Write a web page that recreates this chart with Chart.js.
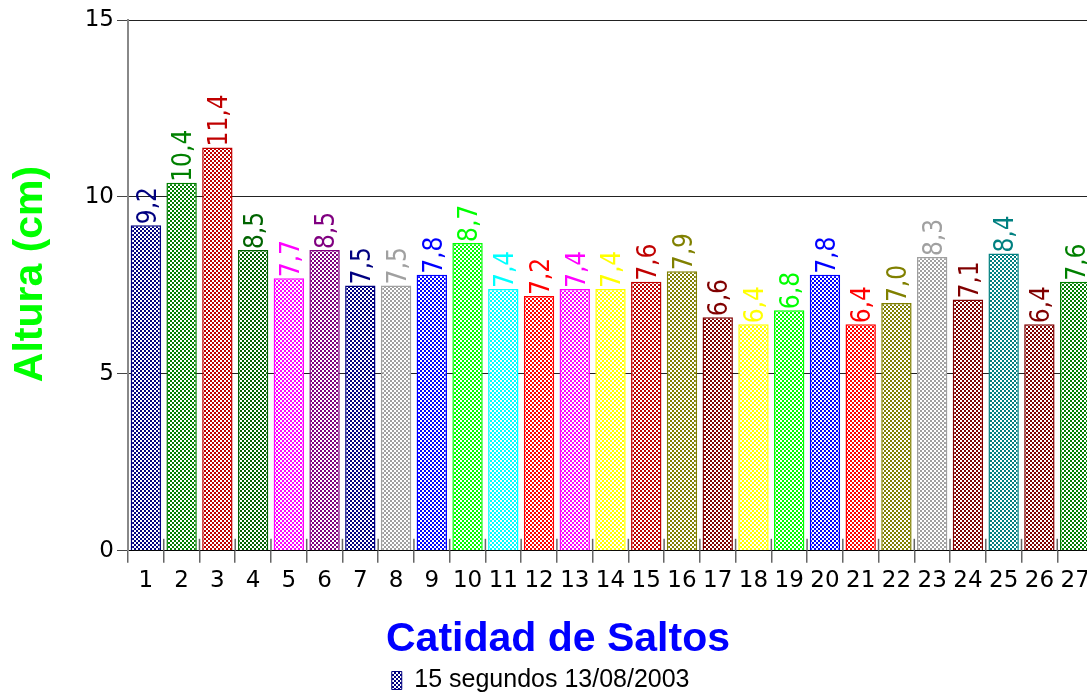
<!DOCTYPE html>
<html>
<head>
<meta charset="utf-8">
<script src="https://cdn.jsdelivr.net/npm/chart.js@4"></script>
<style>
  html, body { margin: 0; padding: 0; overflow: hidden; background: #fff; }
  #wrap { width: 1115px; height: 693px; position: relative; }
</style>
</head>
<body>
<div id="wrap"><canvas id="saltosChart"></canvas></div>
<script>
const saltos = ["1","2","3","4","5","6","7","8","9","10","11","12","13","14","15","16","17","18","19","20","21","22","23","24","25","26","27"];
const alturas = [9.2, 10.4, 11.4, 8.5, 7.7, 8.5, 7.5, 7.5, 7.8, 8.7, 7.4, 7.2, 7.4, 7.4, 7.6, 7.9, 6.6, 6.4, 6.8, 7.8, 6.4, 7.0, 8.3, 7.1, 8.4, 6.4, 7.6];
const colores = ["#000080", "#008000", "#c00000", "#006400", "#ff00ff", "#800080", "#000080", "#a0a0a0", "#0000ff", "#00ff00",
                 "#00ffff", "#ff0000", "#ff00ff", "#ffff00", "#c00000", "#808000", "#800000", "#ffff00", "#00ff00", "#0000ff",
                 "#ff0000", "#808000", "#a0a0a0", "#800000", "#008080", "#800000", "#008000"];
const yTicks = [0, 5, 10, 15];
const serieNombre = "15 segundos 13/08/2003";

// trama de cuadritos 2x2 (como el original)
function trama(color) {
  const c = document.createElement("canvas");
  c.width = 4; c.height = 4;
  const g = c.getContext("2d");
  g.fillStyle = color;
  g.fillRect(0, 0, 4, 4);
  g.fillStyle = "#fff";
  g.fillRect(0, 0, 2, 2);
  g.fillRect(2, 2, 2, 2);
  return g.createPattern(c, "repeat");
}

const etiquetas = {
  id: "etiquetas",
  afterDatasetsDraw(chart) {
    const ctx = chart.ctx;
    const meta = chart.getDatasetMeta(0);
    ctx.save();
    // marcas cortas entre barras, hacia arriba del eje
    const x = chart.scales.x;
    ctx.strokeStyle = "#666";
    ctx.lineWidth = 1.5;
    for (let i = 1; i < saltos.length; i++) {
      const px = (x.getPixelForValue(i - 1) + x.getPixelForValue(i)) / 2;
      ctx.beginPath();
      ctx.moveTo(px, chart.chartArea.bottom - 12);
      ctx.lineTo(px, chart.chartArea.bottom);
      ctx.stroke();
    }
    ctx.font = "26px 'DejaVu Sans Condensed', 'DejaVu Sans'";
    ctx.textAlign = "left";
    ctx.textBaseline = "middle";
    meta.data.forEach((bar, i) => {
      ctx.save();
      ctx.translate(bar.x + 3, bar.y - 1);
      ctx.rotate(-Math.PI / 2);
      ctx.fillStyle = colores[i];
      ctx.fillText(alturas[i].toFixed(1).replace(".", ","), 0, 0);
      ctx.restore();
    });
    ctx.restore();
  }
};

new Chart(document.getElementById("saltosChart"), {
  type: "bar",
  data: {
    labels: saltos,
    datasets: [{
      label: serieNombre,
      data: alturas,
      backgroundColor: colores.map(trama),
      borderColor: colores,
      borderWidth: 1.5,
      barPercentage: 0.85,
      categoryPercentage: 1
    }]
  },
  options: {
    responsive: true,
    maintainAspectRatio: false,
    animation: false,
    layout: { padding: { left: 23, right: 22, top: 20, bottom: -10 } },
    plugins: {
      tooltip: { enabled: false },
      title: {
        display: true,
        position: "bottom",
        text: "Catidad de Saltos",
        color: "#0000ff",
        font: { family: "'Liberation Sans'", size: 41, weight: "bold" },
        padding: { top: 15, bottom: 3 },
        weight: 500
      },
      legend: {
        position: "bottom",
        labels: {
          color: "#000",
          font: { family: "'Liberation Sans'", size: 25 },
          boxWidth: 10,
          boxHeight: 18,
          padding: 1,
          generateLabels: () => [{
            text: serieNombre + "     ",
            fillStyle: trama("#000080"),
            strokeStyle: "#000080",
            lineWidth: 1,
            datasetIndex: 0
          }]
        }
      }
    },
    scales: {
      x: {
        afterFit: s => { s.height = 49; },
        grid: { offset: true, drawOnChartArea: false, tickLength: 12, color: "#666", lineWidth: 1.5 },
        border: { color: "#000", width: 1 },
        ticks: {
          color: "#000",
          font: { family: "'DejaVu Sans'", size: 23 },
          autoSkip: false,
          maxRotation: 0,
          padding: 4
        }
      },
      y: {
        min: 0,
        max: 15,
        afterFit: s => { s.width = 105; },
        afterBuildTicks: s => { s.ticks = yTicks.map(v => ({ value: v })); },
        grid: { color: "#222", tickColor: "#444", lineWidth: 1, tickLength: 11 },
        border: { color: "#888", width: 2 },
        ticks: {
          color: "#000",
          font: { family: "'DejaVu Sans'", size: 23 },
          padding: 3
        },
        title: {
          display: true,
          text: "  Altura (cm)",
          color: "#00ff00",
          font: { family: "'Liberation Sans'", size: 41, weight: "bold" },
          padding: { top: -17, bottom: 0 }
        }
      }
    }
  },
  plugins: [etiquetas]
});
</script>
</body>
</html>
